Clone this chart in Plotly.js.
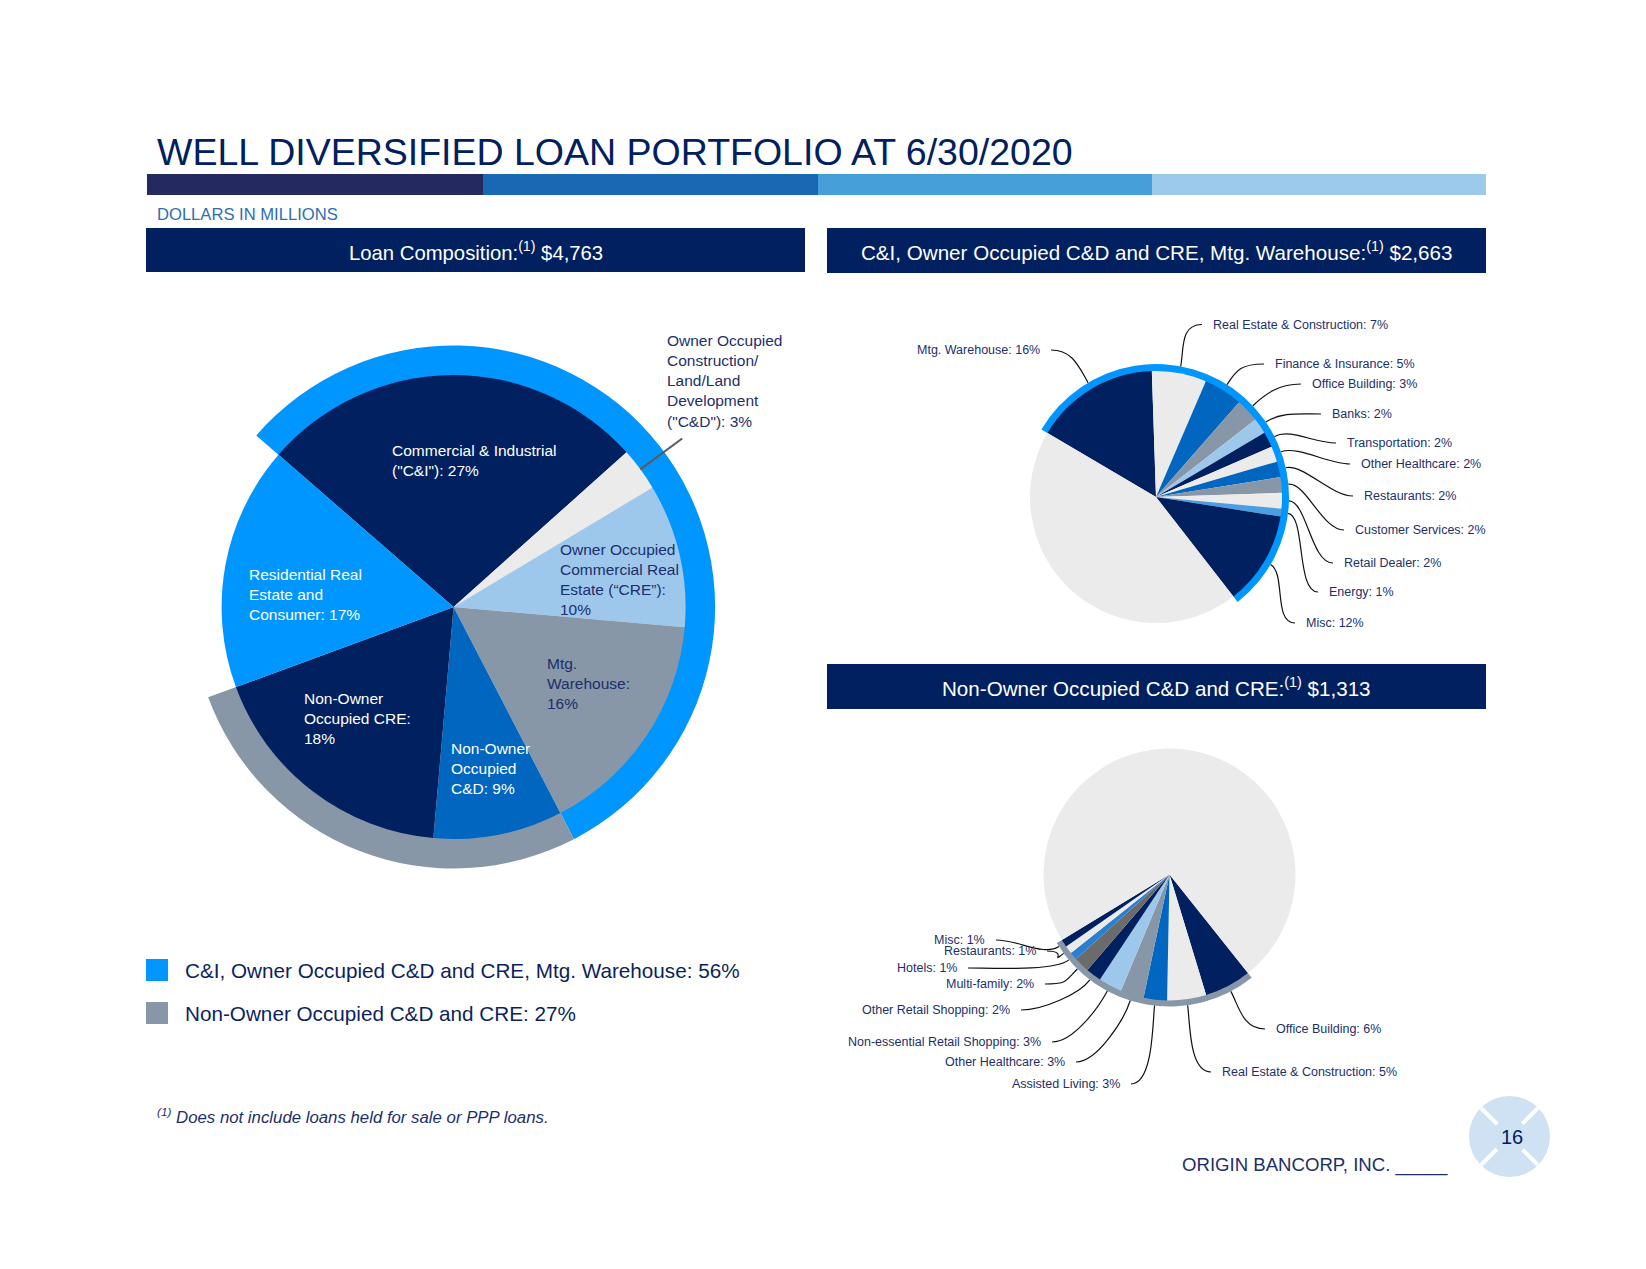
<!DOCTYPE html>
<html><head><meta charset="utf-8">
<script src="https://cdn.plot.ly/plotly-3.0.1.min.js"></script>
<style>html,body{margin:0;padding:0;background:#fff;}#chart{width:1646px;height:1269px;}</style>
</head><body><div id="chart"></div>
<script>
// ---------------- DATA ----------------
const mainCategories = ['Commercial & Industrial ("C&I")', 'Owner Occupied Construction/Land/Land Development ("C&D")', 'Owner Occupied Commercial Real Estate ("CRE")', 'Mtg. Warehouse', 'Non-Owner Occupied C&D', 'Non-Owner Occupied CRE', 'Residential Real Estate and Consumer'];
const mainLabelText = ['Commercial & Industrial<br>("C&I"): ', 'Owner Occupied<br>Construction/<br>Land/Land<br>Development<br>("C&D"): ', 'Owner Occupied<br>Commercial Real<br>Estate (“CRE”):<br>', 'Mtg.<br>Warehouse:<br>', 'Non-Owner<br>Occupied<br>C&D: ', 'Non-Owner<br>Occupied CRE:<br>', 'Residential Real<br>Estate and<br>Consumer: '];
const mainValues = [27, 3, 10, 16, 9, 18, 17];
const mainGroup = [0, 0, 0, 0, 1, 1, 2];   // 0 = C&I/OO/Mtg, 1 = Non-owner, 2 = other
const groupNames = ['C&I, Owner Occupied C&D and CRE, Mtg. Warehouse', 'Non-Owner Occupied C&D and CRE'];
const topCategories = ['Mtg. Warehouse', 'Real Estate & Construction', 'Finance & Insurance', 'Office Building', 'Banks', 'Transportation', 'Other Healthcare', 'Restaurants', 'Customer Services', 'Retail Dealer', 'Energy', 'Misc'];
const topValues = [16, 7, 5, 3, 2, 2, 2, 2, 2, 2, 1, 12];
const bottomCategories = ['Office Building', 'Real Estate & Construction', 'Assisted Living', 'Other Healthcare', 'Non-essential Retail Shopping', 'Other Retail Shopping', 'Multi-family', 'Hotels', 'Restaurants', 'Misc'];
const bottomValues = [6, 5, 3, 3, 3, 2, 2, 1, 1, 1];
const totalLoans = '$4,763';
const totalGroupA = '$2,663';
const totalGroupB = '$1,313';

// ---------------- STYLE / LAYOUT ----------------
const W = 1646, H = 1269;
const FONT = 'Arial, "Liberation Sans", Helvetica, sans-serif';
const NAVY = '#002060', BRIGHT = '#0096ff', MED = '#0066c0', LBLUE = '#9dc8eb', LGREY = '#ebebeb', GREY = '#8797a8', DGREY = '#6b6b6b', SKY = '#4a9fe2', HOTEL = '#2a7fd0';
const LABEL = '#1c2f6b';
const mainColors = [NAVY, LGREY, LBLUE, GREY, MED, NAVY, BRIGHT];
const groupColors = [BRIGHT, GREY, 'rgba(0,0,0,0)'];
const topColors = [NAVY, LGREY, MED, GREY, LBLUE, NAVY, LGREY, MED, GREY, LGREY, SKY, NAVY];
const bottomColors = [NAVY, LGREY, MED, GREY, LBLUE, NAVY, DGREY, HOTEL, LGREY, NAVY];

const mainGeo = {cx: 453.6, cy: 607, r: 232, ring: 261.5, rot: -49};
const topGeo = {cx: 1156, cy: 497, r: 126, ring: 133, rot: 300.5};
const botGeo = {cx: 1169.5, cy: 874.5, r: 126, ring: 132, rot: 141.5};

const mainLabelPos = [[389.5, 460, 'white'], [664.6, 380.6, LABEL], [557.5, 579, LABEL], [545, 683.5, LABEL], [449.4, 768.6, 'white'], [302.4, 718.2, 'white'], [246.8, 594.8, 'white']];
const topLabelPos = [[1042, 350, 'right'], [1211, 324.5, 'left'], [1273, 364, 'left'], [1310, 384, 'left'], [1330, 414, 'left'], [1345, 443, 'left'], [1359, 464, 'left'], [1362, 496, 'left'], [1353, 530, 'left'], [1342, 563, 'left'], [1327, 592, 'left'], [1304, 623, 'left']];
const botLabelPos = [[1274, 1029, 'left'], [1220, 1072, 'left'], [1122, 1084, 'right'], [1067, 1062, 'right'], [1043, 1042, 'right'], [1012, 1010, 'right'], [1036, 984, 'right'], [959, 968, 'right'], [1038, 951, 'right'], [987, 940, 'right']];

// ---------------- HELPERS ----------------
const sum = a => a.reduce((s, v) => s + v, 0);
function dom(g, r) {
  return {x: [(g.cx - r) / W, (g.cx + r) / W], y: [1 - (g.cy + r) / H, 1 - (g.cy - r) / H]};
}
function midAngles(values, total, rot) {
  let acc = 0;
  return values.map(v => { const a = rot + (acc + v / 2) / total * 360; acc += v; return a; });
}
function pt(g, ang, r) {
  const t = ang * Math.PI / 180;
  return [g.cx + r * Math.sin(t), g.cy - r * Math.cos(t)];
}
function pie(g, r, values, colors, hole, labels) {
  return {
    type: 'pie', values: values, labels: labels, marker: {colors: colors, line: {width: 0}},
    sort: false, direction: 'clockwise', rotation: g.rot, hole: hole || 0,
    textinfo: 'none', hoverinfo: 'skip', showlegend: false, domain: dom(g, r)
  };
}

const topRest = 100 - sum(topValues);
const botRest = 100 - sum(bottomValues);
const groupValues = [0, 1, 2].map(k => sum(mainValues.filter((v, i) => mainGroup[i] === k)));

const traces = [
  {type: 'scatter', x: [0], y: [0], mode: 'markers', marker: {opacity: 0}, hoverinfo: 'skip', showlegend: false},
  pie(mainGeo, mainGeo.ring, groupValues, groupColors, (mainGeo.r - 1) / mainGeo.ring, ['g0', 'g1', 'g2']),
  pie(mainGeo, mainGeo.r, mainValues, mainColors, 0, mainCategories),
  pie(topGeo, topGeo.ring, [sum(topValues), topRest], [BRIGHT, 'rgba(0,0,0,0)'], (topGeo.r - 1) / topGeo.ring, ['a', 'rest']),
  pie(topGeo, topGeo.r, topValues.concat([topRest]), topColors.concat([LGREY]), 0, topCategories.concat(['Other'])),
  pie(botGeo, botGeo.ring, [sum(bottomValues), botRest], [GREY, 'rgba(0,0,0,0)'], (botGeo.r - 1) / botGeo.ring, ['b', 'rest']),
  pie(botGeo, botGeo.r, bottomValues.concat([botRest]), bottomColors.concat([LGREY]), 0, bottomCategories.concat(['Other']))
];

const shapes = [];
const ann = [];
function rect(x0, y0, x1, y1, c) { shapes.push({type: 'rect', xref: 'x', yref: 'y', x0, y0, x1, y1, fillcolor: c, line: {width: 0}, layer: 'above'}); }
function text(x, y, t, size, color, xa, extra) {
  ann.push(Object.assign({xref: 'x', yref: 'y', x, y, text: t, showarrow: false, xanchor: xa || 'left', yanchor: 'middle', align: xa === 'right' ? 'right' : (xa === 'center' ? 'center' : 'left'), font: {family: FONT, size, color}}, extra || {}));
}

// title and colour bar
text(155, 152, 'WELL DIVERSIFIED LOAN PORTFOLIO AT 6/30/2020', 37.5, NAVY);
[['#24295f', 147, 483], ['#1868b3', 483, 818], ['#469fd9', 818, 1152], ['#9ccaea', 1152, 1486]].forEach(s => rect(s[1], 174, s[2], 195, s[0]));
text(155, 214, 'DOLLARS IN MILLIONS', 16.6, '#2e6db4');

// header bars
rect(146, 228, 805, 272, NAVY);
rect(827, 228, 1486, 273, NAVY);
rect(827, 664, 1486, 709, NAVY);
text(476, 251, 'Loan Composition:<sup>(1)</sup> ' + totalLoans, 20.3, 'white', 'center');
text(1156, 251, groupNames[0] + ':<sup>(1)</sup> ' + totalGroupA, 20.6, 'white', 'center');
text(1156, 687, groupNames[1] + ':<sup>(1)</sup> ' + totalGroupB, 20.6, 'white', 'center');

// main pie labels
mainValues.forEach((v, i) => {
  const p = mainLabelPos[i];
  text(p[0], p[1], mainLabelText[i] + v + '%', 15.5, p[2]);
});
const mMid = midAngles(mainValues, sum(mainValues), mainGeo.rot);
{
  const a = pt(mainGeo, mMid[1], mainGeo.r), b = pt(mainGeo, mMid[1], mainGeo.r + 52);
  shapes.push({type: 'line', xref: 'x', yref: 'y', x0: a[0], y0: a[1], x1: b[0], y1: b[1], line: {color: '#5a5a5a', width: 2}});
}

// legend for main pie
[[BRIGHT, 959], [GREY, 1002]].forEach((s, k) => {
  rect(146, s[1], 168, s[1] + 22, s[0]);
  text(183, s[1] + 11, groupNames[k] + ': ' + groupValues[k] + '%', 20.7, '#0c1f5e');
});

// side pie labels and leader curves
function sideLabels(g, cats, vals, pos, total) {
  const mids = midAngles(vals, total, g.rot);
  vals.forEach((v, i) => {
    const p = pos[i];
    text(p[0], p[1], cats[i] + ': ' + v + '%', 12.5, LABEL, p[2]);
    const head = pt(g, mids[i], g.ring);
    const ctrl2 = pt(g, mids[i], g.ring + 18);
    const dir = p[2] === 'left' ? -1 : 1;
    const tail = [p[0] + dir * 9, p[1]];
    const ctrl1 = [tail[0] + dir * 22, tail[1]];
    shapes.push({type: 'path', xref: 'x', yref: 'y', line: {color: '#111', width: 1.2},
      path: `M${tail[0]},${tail[1]} C${ctrl1[0]},${ctrl1[1]} ${ctrl2[0]},${ctrl2[1]} ${head[0]},${head[1]}`});
  });
}
sideLabels(topGeo, topCategories, topValues, topLabelPos, 100);
sideLabels(botGeo, bottomCategories, bottomValues, botLabelPos, 100);

// footnote and footer
text(155, 1116, '<i><sup>(1)</sup> Does not include loans held for sale or PPP loans.</i>', 16.8, '#1c2f6b');
text(1180, 1165, 'ORIGIN BANCORP, INC. _____', 18.6, '#1c2f6b');

// page badge
shapes.push({type: 'circle', xref: 'x', yref: 'y', x0: 1469, y0: 1096, x1: 1550, y1: 1177, fillcolor: '#cfe2f3', line: {width: 0}});
shapes.push({type: 'line', xref: 'x', yref: 'y', x0: 1481, y0: 1108, x1: 1538, y1: 1165, line: {color: 'white', width: 4}});
shapes.push({type: 'line', xref: 'x', yref: 'y', x0: 1538, y0: 1108, x1: 1481, y1: 1165, line: {color: 'white', width: 4}});
shapes.push({type: 'circle', xref: 'x', yref: 'y', x0: 1492, y0: 1119, x1: 1528, y1: 1155, fillcolor: '#cfe2f3', line: {width: 0}});
text(1512, 1137, '16', 20, NAVY, 'center');

const layout = {
  width: W, height: H, margin: {l: 0, r: 0, t: 0, b: 0},
  paper_bgcolor: 'white', plot_bgcolor: 'rgba(0,0,0,0)',
  xaxis: {range: [0, W], visible: false, fixedrange: true, domain: [0, 1]},
  yaxis: {range: [H, 0], visible: false, fixedrange: true, domain: [0, 1]},
  shapes: shapes, annotations: ann, showlegend: false,
  font: {family: FONT}
};
Plotly.newPlot('chart', traces, layout, {staticPlot: true, displayModeBar: false});
</script></body></html>
